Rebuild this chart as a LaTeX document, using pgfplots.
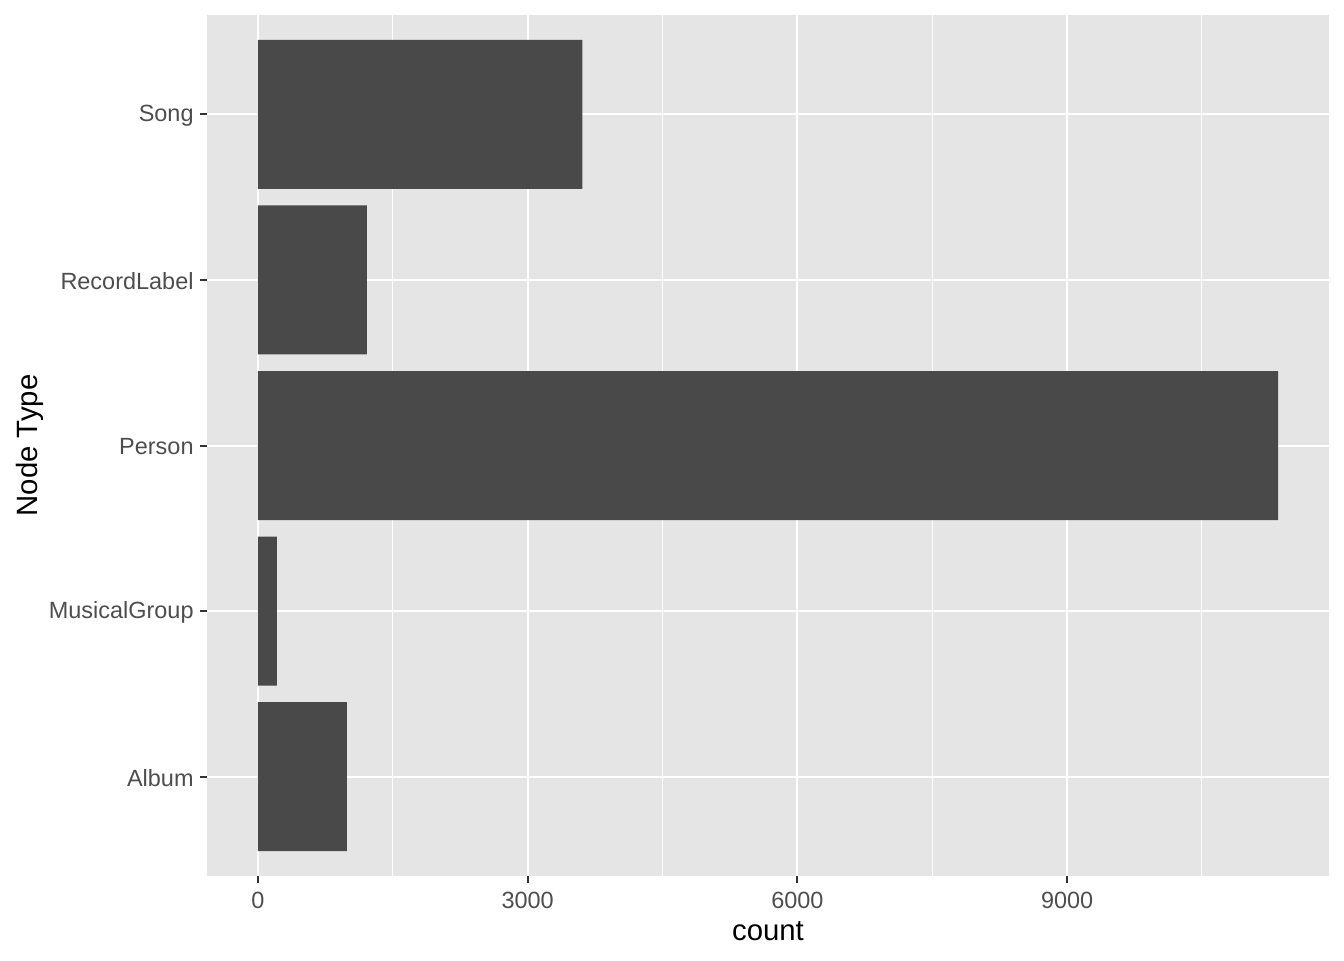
\documentclass[border=0pt]{standalone}
\usepackage{fontspec}
\setmainfont{Liberation Sans}
\usepackage{pgfplots}
\pgfplotsset{compat=1.18}
\definecolor{panel}{HTML}{E5E5E5}
\definecolor{barfill}{HTML}{494949}
\definecolor{ticklab}{HTML}{4D4D4D}
\definecolor{tickcol}{HTML}{333333}

\begin{document}
\begin{tikzpicture}
\begin{axis}[
    name=ax,
    scale only axis,
    width=420.75pt, height=322.9pt,
    xmin=-567, xmax=11913,
    ymin=0.4, ymax=5.6,
    xbar, bar width=0.9,
    axis background/.style={fill=panel},
    axis line style={draw=none},
    xtick={0,3000,6000,9000},
    minor xtick={1500,4500,7500,10500},
    ytick={1,2,3,4,5},
    yticklabels={Album,MusicalGroup,Person,RecordLabel,Song},
    grid=both,
    major grid style={white, line width=0.75pt},
    minor grid style={white, line width=0.375pt},
    tick align=outside,
    xtick pos=bottom, ytick pos=left,
    major tick length=2.6pt,
    minor tick length=0pt,
    tick style={tickcol, line width=0.75pt},
    ticklabel style={font=\fontsize{8.8}{10}\selectfont, text=ticklab},
    yticklabel style={xshift=1.1pt, yshift=-0.4pt},
    /pgf/number format/assume math mode=true,
    scaled x ticks=false,
    xticklabel={\pgfmathprintnumber[fixed,1000 sep={}]{\tick}},
    xlabel={count},
    ylabel={Node Type},
    label style={font=\fontsize{11}{13}\selectfont, text=black},
    xlabel style={at={(axis description cs:0.5,-0.0743)}, anchor=base},
    ylabel style={at={(axis description cs:-0.1515,0.5)}, anchor=base, rotate=0},
]
\addplot[fill=barfill, draw=none] coordinates {
    (990,1) (211,2) (11346,3) (1212,4) (3608,5)
};
\end{axis}
\pgfresetboundingbox
\path[use as bounding box] ([shift={(-77.625pt,-31.5pt)}]ax.south west) rectangle ([shift={(5.625pt,5.625pt)}]ax.north east);
\end{tikzpicture}
\end{document}
